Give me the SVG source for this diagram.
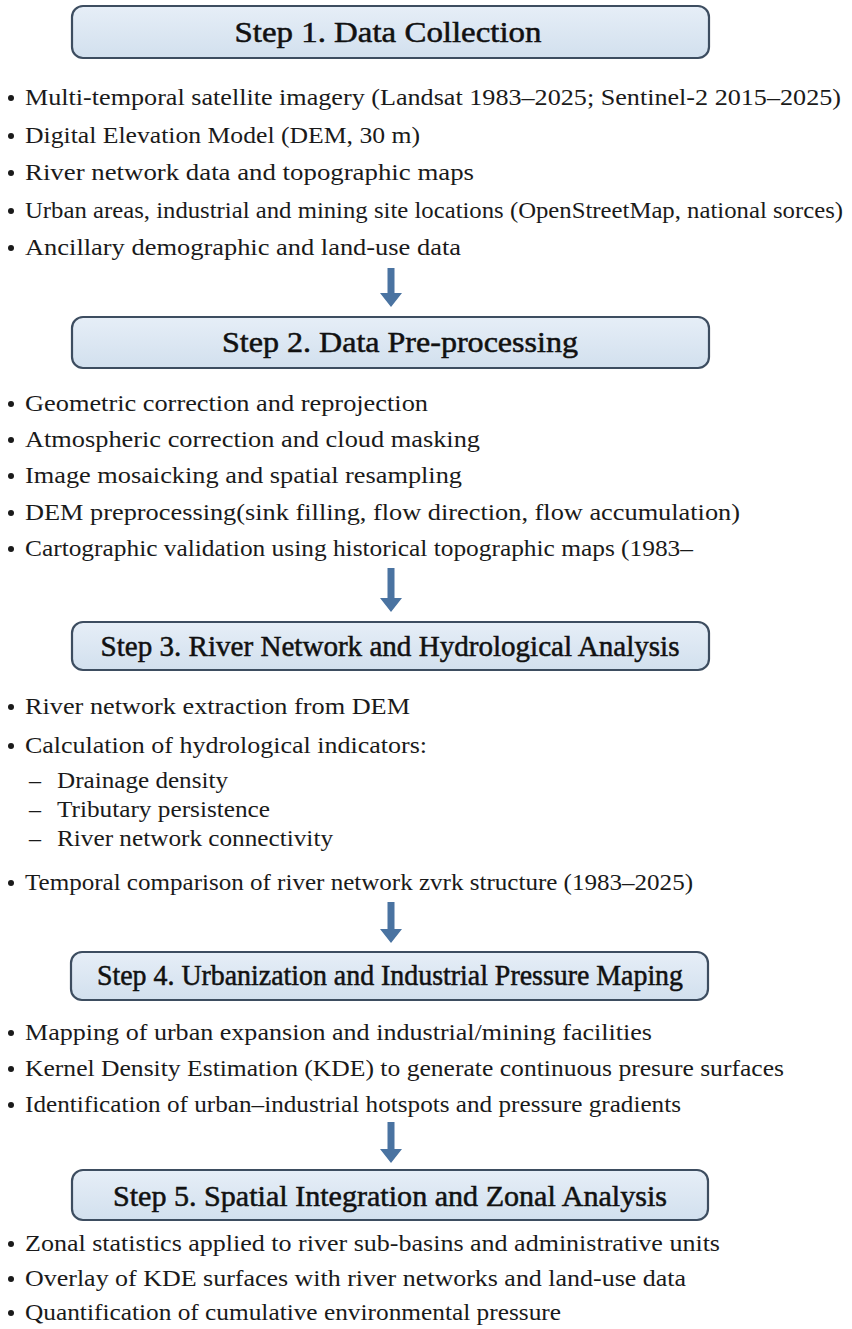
<svg xmlns="http://www.w3.org/2000/svg" width="852" height="1329" viewBox="0 0 852 1329">
<defs>
<linearGradient id="boxfill" x1="0" y1="0" x2="0" y2="1">
<stop offset="0" stop-color="#e6eef7"/>
<stop offset="1" stop-color="#d2e0ee"/>
</linearGradient>
<style>
.box{fill:url(#boxfill);stroke:#3d4d60;stroke-width:2.2}
.title{font-family:"Liberation Serif","Times New Roman",serif;font-size:29px;fill:#111111;stroke:#111111;stroke-width:0.5;text-anchor:middle}
.t{font-family:"Liberation Serif","Times New Roman",serif;font-size:24px;fill:#1a1a1a}
.dot{fill:#1a1a1a}
.arrow{fill:#4a73a1}
</style>
</defs>
<rect width="852" height="1329" fill="#ffffff"/>

<g id="connectors">
<path class="arrow" d="M387.5,268 h7 v25 h7.5 l-11,14 l-11,-14 h7.5 z"/>
<path class="arrow" d="M387.5,568 h7 v30 h7.5 l-11,14 l-11,-14 h7.5 z"/>
<path class="arrow" d="M387.5,902 h7 v27 h7.5 l-11,14 l-11,-14 h7.5 z"/>
<path class="arrow" d="M387.5,1122 h7 v27 h7.5 l-11,14 l-11,-14 h7.5 z"/>
</g>

<g id="step1">
<rect class="box" x="72" y="6" width="637" height="52" rx="11"/>
<text class="title" x="388" y="42" textLength="307" lengthAdjust="spacingAndGlyphs">Step 1. Data Collection</text>
</g>
<g id="step1-items">
<circle class="dot" cx="11" cy="98" r="3"/><text class="t" x="25" y="105" textLength="816" lengthAdjust="spacingAndGlyphs">Multi-temporal satellite imagery (Landsat 1983–2025; Sentinel-2 2015–2025)</text>
<circle class="dot" cx="11" cy="136" r="3"/><text class="t" x="25" y="143" textLength="395" lengthAdjust="spacingAndGlyphs">Digital Elevation Model (DEM, 30 m)</text>
<circle class="dot" cx="11" cy="173" r="3"/><text class="t" x="25" y="180" textLength="449" lengthAdjust="spacingAndGlyphs">River network data and topographic maps</text>
<circle class="dot" cx="11" cy="211" r="3"/><text class="t" x="25" y="218" textLength="818" lengthAdjust="spacingAndGlyphs">Urban areas, industrial and mining site locations (OpenStreetMap, national sorces)</text>
<circle class="dot" cx="11" cy="248" r="3"/><text class="t" x="25" y="255" textLength="436" lengthAdjust="spacingAndGlyphs">Ancillary demographic and land-use data</text>
</g>

<g id="step2">
<rect class="box" x="72" y="317" width="637" height="51" rx="11"/>
<text class="title" x="400" y="352" textLength="356" lengthAdjust="spacingAndGlyphs">Step 2. Data Pre-processing</text>
</g>
<g id="step2-items">
<circle class="dot" cx="11" cy="404" r="3"/><text class="t" x="25" y="411" textLength="403" lengthAdjust="spacingAndGlyphs">Geometric correction and reprojection</text>
<circle class="dot" cx="11" cy="440" r="3"/><text class="t" x="25" y="447" textLength="455" lengthAdjust="spacingAndGlyphs">Atmospheric correction and cloud masking</text>
<circle class="dot" cx="11" cy="476" r="3"/><text class="t" x="25" y="483" textLength="437" lengthAdjust="spacingAndGlyphs">Image mosaicking and spatial resampling</text>
<circle class="dot" cx="11" cy="513" r="3"/><text class="t" x="25" y="520" textLength="715" lengthAdjust="spacingAndGlyphs">DEM preprocessing(sink filling, flow direction, flow accumulation)</text>
<circle class="dot" cx="11" cy="549" r="3"/><text class="t" x="25" y="556" textLength="668" lengthAdjust="spacingAndGlyphs">Cartographic validation using historical topographic maps (1983–</text>
</g>

<g id="step3">
<rect class="box" x="72" y="622" width="637" height="48" rx="11"/>
<text class="title" x="390" y="656" textLength="579" lengthAdjust="spacingAndGlyphs">Step 3. River Network and Hydrological Analysis</text>
</g>
<g id="step3-items">
<circle class="dot" cx="11" cy="707" r="3"/><text class="t" x="25" y="714" textLength="385" lengthAdjust="spacingAndGlyphs">River network extraction from DEM</text>
<circle class="dot" cx="11" cy="746" r="3"/><text class="t" x="25" y="753" textLength="402" lengthAdjust="spacingAndGlyphs">Calculation of hydrological indicators:</text>
<text class="t" x="29" y="788">–</text><text class="t" x="57" y="788" textLength="171" lengthAdjust="spacingAndGlyphs">Drainage density</text>
<text class="t" x="29" y="817">–</text><text class="t" x="57" y="817" textLength="213" lengthAdjust="spacingAndGlyphs">Tributary persistence</text>
<text class="t" x="29" y="846">–</text><text class="t" x="57" y="846" textLength="276" lengthAdjust="spacingAndGlyphs">River network connectivity</text>
<circle class="dot" cx="11" cy="883" r="3"/><text class="t" x="25" y="890" textLength="668" lengthAdjust="spacingAndGlyphs">Temporal comparison of river network zvrk structure (1983–2025)</text>
</g>

<g id="step4">
<rect class="box" x="71" y="952" width="637" height="48" rx="11"/>
<text class="title" x="390" y="985" textLength="586" lengthAdjust="spacingAndGlyphs">Step 4. Urbanization and Industrial Pressure Maping</text>
</g>
<g id="step4-items">
<circle class="dot" cx="11" cy="1033" r="3"/><text class="t" x="25" y="1040" textLength="627" lengthAdjust="spacingAndGlyphs">Mapping of urban expansion and industrial/mining facilities</text>
<circle class="dot" cx="11" cy="1069" r="3"/><text class="t" x="25" y="1076" textLength="759" lengthAdjust="spacingAndGlyphs">Kernel Density Estimation (KDE) to generate continuous presure surfaces</text>
<circle class="dot" cx="11" cy="1105" r="3"/><text class="t" x="25" y="1112" textLength="656" lengthAdjust="spacingAndGlyphs">Identification of urban–industrial hotspots and pressure gradients</text>
</g>

<g id="step5">
<rect class="box" x="72" y="1170" width="636" height="50" rx="11"/>
<text class="title" x="390" y="1206" textLength="554" lengthAdjust="spacingAndGlyphs">Step 5. Spatial Integration and Zonal Analysis</text>
</g>
<g id="step5-items">
<circle class="dot" cx="11" cy="1244" r="3"/><text class="t" x="25" y="1251" textLength="695" lengthAdjust="spacingAndGlyphs">Zonal statistics applied to river sub-basins and administrative units</text>
<circle class="dot" cx="11" cy="1279" r="3"/><text class="t" x="25" y="1286" textLength="661" lengthAdjust="spacingAndGlyphs">Overlay of KDE surfaces with river networks and land-use data</text>
<circle class="dot" cx="11" cy="1313" r="3"/><text class="t" x="25" y="1320" textLength="536" lengthAdjust="spacingAndGlyphs">Quantification of cumulative environmental pressure</text>
</g>
</svg>
